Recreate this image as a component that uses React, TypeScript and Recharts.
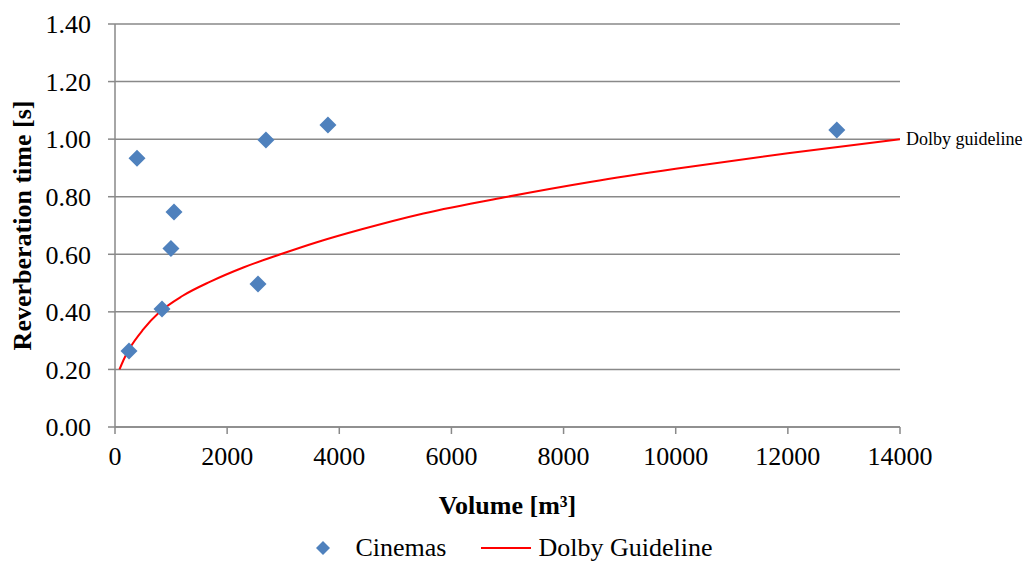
import React from 'react';
import { ComposedChart, XAxis, YAxis, CartesianGrid, Scatter, Line, Legend, LabelList } from 'recharts';

const cinemaVolumes = [250, 392, 838, 998, 1052, 2550, 2692, 3798, 12873];
const cinemaRT = [0.264, 0.934, 0.41, 0.62, 0.747, 0.497, 0.997, 1.049, 1.032];

const guideVolumes = [80, 150, 267, 500, 800, 1200, 1700, 2300, 2950, 3600, 4400, 5500, 7000, 8500, 10000, 12000, 14000];
const guideRT = [0.2, 0.232, 0.275, 0.338, 0.4, 0.455, 0.505, 0.555, 0.6, 0.642, 0.687, 0.742, 0.8, 0.852, 0.897, 0.951, 1.0];

const xTicks = [0, 2000, 4000, 6000, 8000, 10000, 12000, 14000];
const yTicks = [0, 0.2, 0.4, 0.6, 0.8, 1.0, 1.2, 1.4];

const cinemas = cinemaVolumes.map((x, i) => ({ x, y: cinemaRT[i] }));
const guide = guideVolumes.map((x, i) => ({ x, y: guideRT[i] }));

const FONT = '"Liberation Serif", "Times New Roman", serif';
const AXIS = '#898989';
const BLUE = '#4F81BD';
const RED = '#FF0000';

const Diamond = (props: any) => {
  const { cx, cy } = props;
  if (cx == null || cy == null) return null;
  const r = 8.5;
  return <path d={`M${cx},${cy - r}L${cx + r},${cy}L${cx},${cy + r}L${cx - r},${cy}Z`} fill={BLUE} />;
};

const LegendContent = () => (
  <div style={{ display: 'flex', justifyContent: 'center', alignItems: 'center', fontFamily: FONT, fontSize: 26, color: '#000', height: 30, width: 1028 }}>
    <svg width={16} height={16} style={{ marginRight: 24 }}>
      <path d="M8,1L15,8L8,15L1,8Z" fill={BLUE} />
    </svg>
    <span style={{ marginRight: 35 }}>Cinemas</span>
    <svg width={50} height={4} style={{ marginRight: 7 }}>
      <line x1={0} y1={2} x2={50} y2={2} stroke={RED} strokeWidth={2} />
    </svg>
    <span>Dolby Guideline</span>
  </div>
);

const EndLabel = (props: any) => {
  const { x, y, index } = props;
  if (index !== guide.length - 1) return null;
  return (
    <text x={x + 6} y={y} dy="0.35em" fontFamily={FONT} fontSize={18} fill="#000">Dolby guideline</text>
  );
};

export default function App() {
  return (
    <div style={{ position: 'absolute', left: 0, top: 0, background: '#fff' }}>
      <ComposedChart width={1028} height={563} margin={{ top: 24, right: 128, bottom: 0, left: 0 }}>
        <CartesianGrid horizontal vertical={false} stroke={AXIS} strokeWidth={1.5} />
        <XAxis
          type="number"
          dataKey="x"
          domain={[0, 14000]}
          ticks={xTicks}
          interval={0}
          height={106}
          allowDataOverflow
          stroke={AXIS}
          strokeWidth={1.5}
          tickSize={7}
          tickMargin={13}
          tick={{ fill: '#000', fontFamily: FONT, fontSize: 26 }}
          label={(p: any) => {
            const vb = p.viewBox;
            return (
              <text x={vb.x + vb.width / 2} y={505} textAnchor="middle" dy="0.35em" fontFamily={FONT} fontSize={26} fontWeight="bold" fill="#000">Volume [m³]</text>
            );
          }}
        />
        <YAxis
          type="number"
          dataKey="y"
          domain={[0, 1.4]}
          ticks={yTicks}
          interval={0}
          width={115}
          allowDataOverflow
          stroke={AXIS}
          strokeWidth={1.5}
          tickSize={7}
          tickMargin={17}
          tickFormatter={(v: number) => v.toFixed(2)}
          tick={{ fill: '#000', fontFamily: FONT, fontSize: 26 }}
          label={(p: any) => {
            const vb = p.viewBox;
            const cx = 22;
            const cy = vb.y + vb.height / 2;
            return (
              <text x={cx} y={cy} transform={`rotate(-90, ${cx}, ${cy})`} textAnchor="middle" dy="0.35em" fontFamily={FONT} fontSize={26} fontWeight="bold" fill="#000">Reverberation time [s]</text>
            );
          }}
        />
        <Line
          data={guide}
          dataKey="y"
          type="monotone"
          stroke={RED}
          strokeWidth={2}
          dot={false}
          activeDot={false}
          isAnimationActive={false}
          name="Dolby Guideline"
        >
          <LabelList dataKey="y" content={<EndLabel />} />
        </Line>
        <Scatter data={cinemas} dataKey="y" shape={<Diamond />} isAnimationActive={false} name="Cinemas" />
        <Legend verticalAlign="bottom" height={30} wrapperStyle={{ left: 0, width: 1028 }} content={<LegendContent />} />
      </ComposedChart>
    </div>
  );
}
